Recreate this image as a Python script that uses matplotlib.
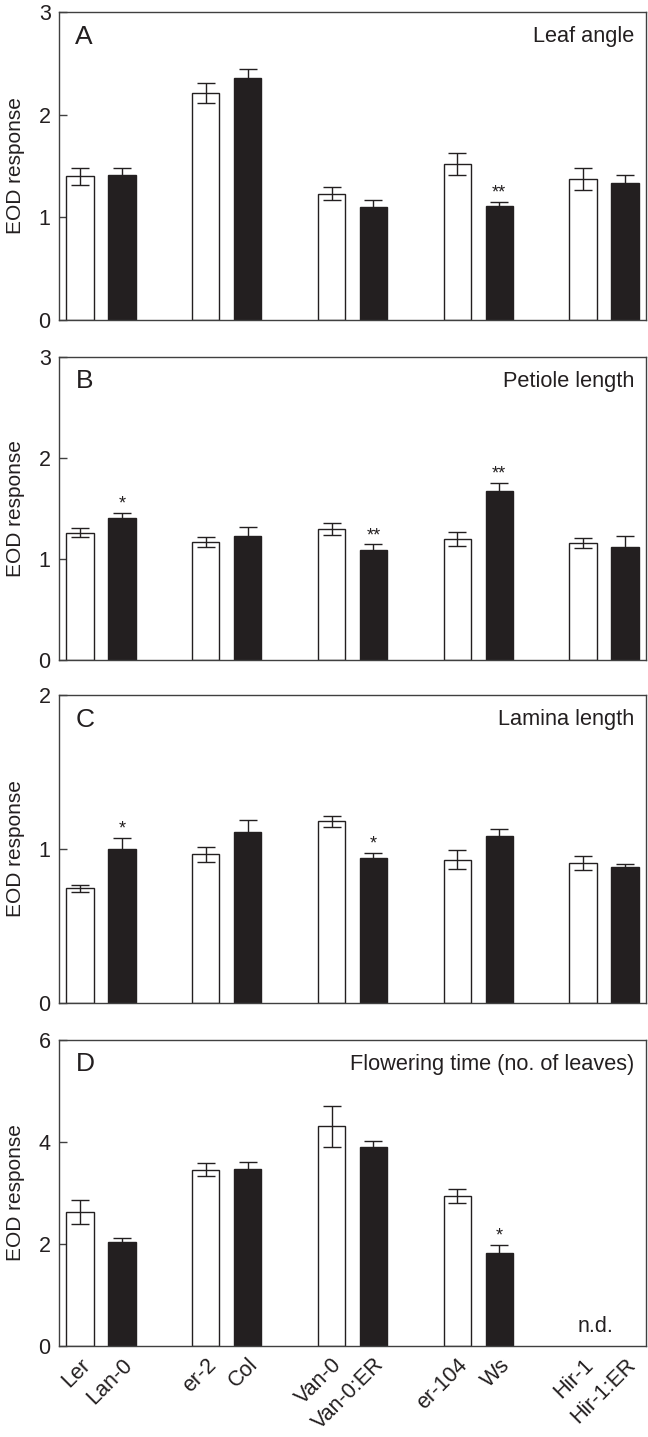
import matplotlib
matplotlib.use('Agg')
import matplotlib.pyplot as plt
import numpy as np

plt.rcParams['font.family'] = ['Liberation Sans', 'DejaVu Sans']

# genotypes: пары (белый, черный)
labels = ['Ler', 'Lan-0', 'er-2', 'Col', 'Van-0', 'Van-0:ER',
          'er-104', 'Ws', 'Hir-1', 'Hir-1:ER']

# A - Leaf angle
angle_val = [1.40, 1.41, 2.21, 2.36, 1.23, 1.10, 1.52, 1.11, 1.37, 1.33]
angle_err = [0.085, 0.075, 0.10, 0.085, 0.065, 0.065, 0.11, 0.042, 0.107, 0.078]
angle_sig = ['', '', '', '', '', '', '', '**', '', '']

# B - Petiole length
petiole_val = [1.26, 1.41, 1.17, 1.23, 1.30, 1.09, 1.20, 1.67, 1.16, 1.12]
petiole_err = [0.043, 0.05, 0.052, 0.086, 0.06, 0.056, 0.069, 0.085, 0.049, 0.105]
petiole_sig = ['', '*', '', '', '', '**', '', '**', '', '']

# C - Lamina length
lamina_val = [0.745, 1.00, 0.965, 1.11, 1.18, 0.944, 0.93, 1.084, 0.91, 0.883]
lamina_err = [0.022, 0.074, 0.05, 0.076, 0.035, 0.032, 0.061, 0.045, 0.045, 0.022]
lamina_sig = ['', '*', '', '', '', '*', '', '', '', '']

# D - Flowering time (n.d. для Hir-1)
flower_val = [2.63, 2.03, 3.46, 3.47, 4.31, 3.90, 2.94, 1.83, np.nan, np.nan]
flower_err = [0.23, 0.078, 0.13, 0.144, 0.405, 0.124, 0.137, 0.15, np.nan, np.nan]
flower_sig = ['', '', '', '', '', '', '', '*', '', '']

panels = [
    ('A', 'Leaf angle', angle_val, angle_err, angle_sig, 3, [0, 1, 2, 3]),
    ('B', 'Petiole length', petiole_val, petiole_err, petiole_sig, 3, [0, 1, 2, 3]),
    ('C', 'Lamina length', lamina_val, lamina_err, lamina_sig, 2, [0, 1, 2]),
    ('D', 'Flowering time (no. of leaves)', flower_val, flower_err, flower_sig, 6, [0, 2, 4, 6]),
]

# позиции в пикселях (верх, низ) каждой панели
boxes = [(12, 320), (357, 660), (695, 1003), (1040, 1346)]
W, H = 648, 1437

fig = plt.figure(figsize=(W / 100, H / 100), dpi=100)

# белый, черный, белый ... с промежутком между парами
x = np.array([3 * (i // 2) + (i % 2) for i in range(len(labels))], dtype=float)
colors = ['white' if i % 2 == 0 else '#231f20' for i in range(len(labels))]
spine_col = '#404040'
txt = '#231f20'

for k, (letter, title, val, err, sig, ymax, yticks) in enumerate(panels):
    top, bot = boxes[k]
    ax = fig.add_axes([59 / W, 1 - bot / H, (646 - 59) / W, (bot - top) / H])
    v = np.array(val, dtype=float)
    e = np.array(err, dtype=float)
    ok = ~np.isnan(v)
    ax.bar(x[ok], v[ok], width=0.65, color=np.array(colors)[ok],
           edgecolor=txt, linewidth=1.0, zorder=2)
    ax.errorbar(x[ok], v[ok], yerr=e[ok], fmt='none', ecolor=txt,
                elinewidth=1.0, capsize=6.5, capthick=1.0, zorder=3)
    for xi, vi, ei, s in zip(x, v, e, sig):
        if s:
            ax.annotate(s, (xi, vi + ei), xytext=(0, 3), textcoords='offset points',
                        ha='center', va='baseline', fontsize=13, color=txt)

    ax.set_xlim(-0.5, 13.5)
    ax.set_ylim(0, ymax)
    ax.set_yticks(yticks)
    ax.tick_params(axis='y', direction='in', length=6, width=1, labelsize=15.5,
                   pad=6, color=spine_col, labelcolor=txt)
    ax.tick_params(axis='x', length=0)
    for sp in ax.spines.values():
        sp.set_color(spine_col)
        sp.set_linewidth(1.0)
    ax.set_ylabel('EOD response', fontsize=15, labelpad=10, color=txt)
    ax.text(0.028, 0.92, letter, transform=ax.transAxes, fontsize=19,
            ha='left', va='center', color=txt)
    ax.text(0.98, 0.92, title, transform=ax.transAxes, fontsize=15.7,
            ha='right', va='center', color=txt)

    if k == 3:
        ax.text(12.3, 0.38, 'n.d.', fontsize=15.5, ha='center', va='center',
                color=txt)
        ax.set_xticks(x)
        ax.set_xticklabels(labels, rotation=45, ha='right', va='top',
                           rotation_mode='anchor', fontsize=15.5, color=txt)
        ax.tick_params(axis='x', pad=6)
    else:
        ax.set_xticks([])

fig.savefig('out.png', dpi=100)
